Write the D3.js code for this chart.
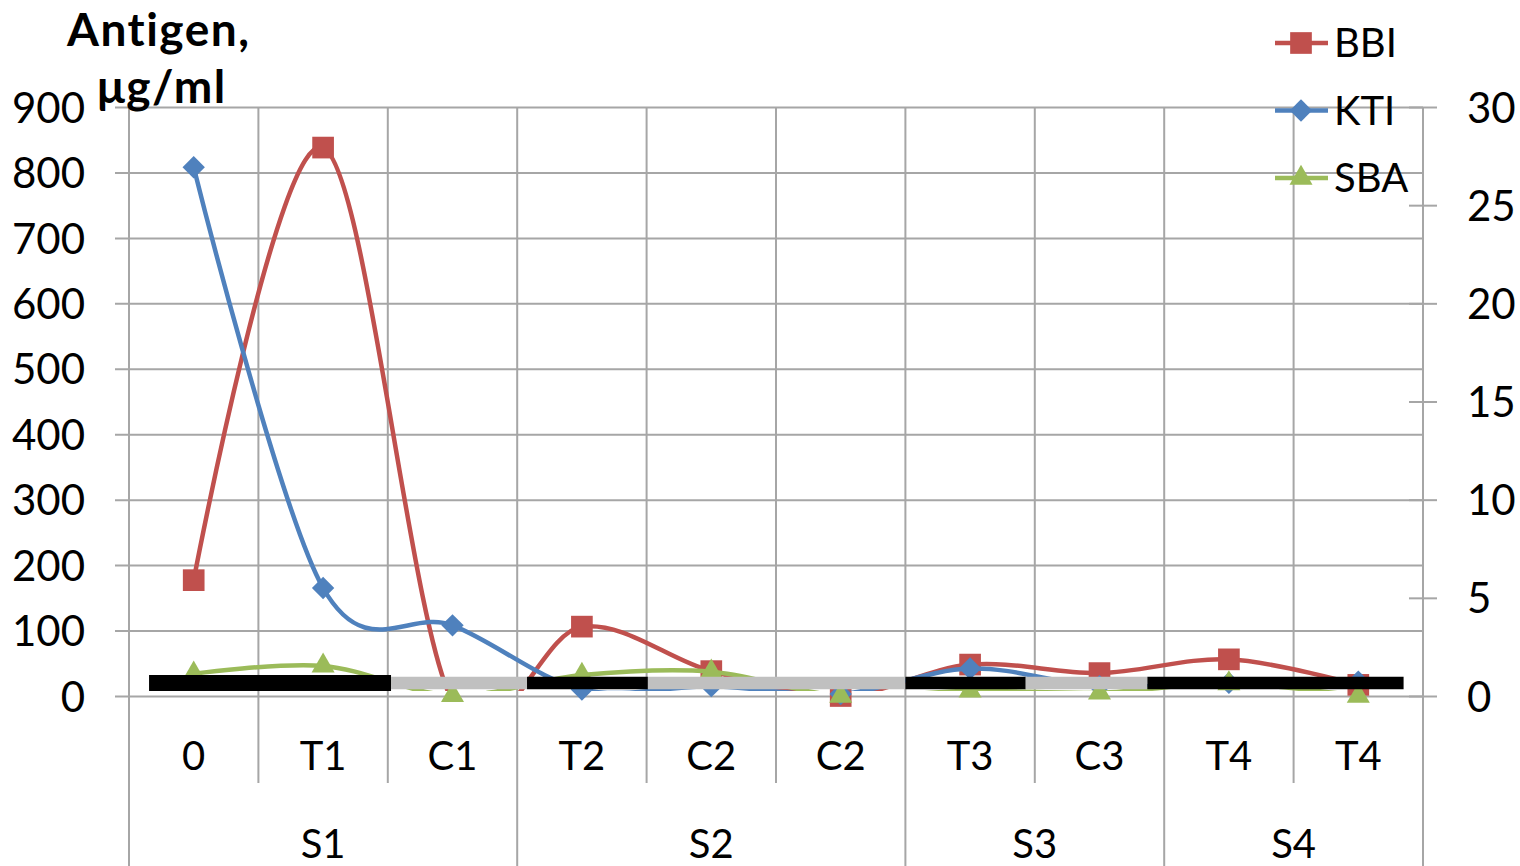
<!DOCTYPE html>
<html>
<head>
<meta charset="utf-8">
<script src="https://cdn.jsdelivr.net/npm/d3@7"></script>
<style>
  body { margin: 0; background: #fff; }
  text { font-family: "Gill Sans MT", "Gill Sans", Lato, "Open Sans", sans-serif; fill: #000; }
</style>
</head>
<body>
<svg id="chart"></svg>
<script>
// categories and groups
var categories = ["0", "T1", "C1", "T2", "C2", "C2", "T3", "C3", "T4", "T4"];
var groupNames = ["S1", "S2", "S3", "S4"];
var groupSizes = [3, 3, 2, 2];

// series values (left axis, µg/ml); BBI at C1 sits just under the axis, its marker is hidden
var bbi = [177, 838, -8, 106, 38, 0, 48, 35, 56, 17];
var kti = [808, 165, 108, 10, 15, 3, 42, 15, 20, 22];
var sba = [34, 46, 1, 32, 37, 0, 8, 5, 19, 0];

// thick band segments (category index from / to, right axis level)
var segFrom = [-0.345, 1.525, 2.576, 3.51, 5.5, 6.43, 7.37];
var segTo = [1.525, 2.576, 3.51, 5.5, 6.43, 7.37, 9.35];
var segShade = ["dark", "light", "dark", "light", "dark", "light", "dark"];
var segLevel = 0.66;

var leftTicks = [0, 100, 200, 300, 400, 500, 600, 700, 800, 900];
var rightTicks = [0, 5, 10, 15, 20, 25, 30];

var margin = { top: 107, right: 97, bottom: 170, left: 129 },
  width = 1520 - margin.left - margin.right,
  height = 866 - margin.top - margin.bottom;

var svg = d3.select("#chart")
  .attr("width", 1520)
  .attr("height", 866);

var g = svg.append("g")
  .attr("transform", "translate(" + margin.left + "," + margin.top + ")");

var x = d3.scaleBand().domain(d3.range(categories.length)).range([0, width]).padding(0);
var xi = d3.scaleLinear().domain([-0.5, categories.length - 0.5]).range([0, width]);
var y = d3.scaleLinear().domain([0, 900]).range([height, 0]);
var y2 = d3.scaleLinear().domain([0, 30]).range([height, 0]);

var gridColor = "#a6a6a6";

// horizontal grid + left axis
var yAxis = g.append("g")
  .call(d3.axisLeft(y).tickValues(leftTicks).tickSize(14).tickPadding(30));
yAxis.select(".domain").remove();
yAxis.selectAll(".tick line").attr("x2", width).attr("x1", -14)
  .attr("stroke", gridColor).attr("stroke-width", 2);
yAxis.selectAll(".tick text").style("font-size", "42px").attr("dy", "0.36em");

// vertical grid lines, running down into the category area
var bounds = d3.range(categories.length + 1);
var groupEdges = [0];
groupSizes.forEach(function (n, i) { groupEdges.push(groupEdges[i] + n); });

g.selectAll(".vgrid")
  .data(bounds)
  .enter()
  .append("line")
  .attr("class", "vgrid")
  .attr("x1", function (d) { return xi(d - 0.5); })
  .attr("x2", function (d) { return xi(d - 0.5); })
  .attr("y1", 0)
  .attr("y2", function (d) { return groupEdges.indexOf(d) >= 0 ? 866 - margin.top : height + 87; })
  .attr("stroke", gridColor)
  .attr("stroke-width", 2);

// right axis with crossing ticks
var rAxis = g.append("g")
  .attr("transform", "translate(" + width + ",0)")
  .call(d3.axisRight(y2).tickValues(rightTicks).tickSize(14).tickPadding(30));
rAxis.select(".domain").attr("stroke", gridColor).attr("stroke-width", 2).attr("d", "M0,0V" + height);
rAxis.selectAll(".tick line").attr("x1", -14).attr("stroke", gridColor).attr("stroke-width", 2);
rAxis.selectAll(".tick text").style("font-size", "42px").attr("dy", "0.36em");

// category labels
g.selectAll(".cat")
  .data(categories)
  .enter()
  .append("text")
  .attr("class", "cat")
  .attr("x", function (d, i) { return x(i) + x.bandwidth() / 2; })
  .attr("y", height + 74)
  .attr("text-anchor", "middle")
  .style("font-size", "40px")
  .text(function (d) { return d; });

// group labels
g.selectAll(".grp")
  .data(groupNames)
  .enter()
  .append("text")
  .attr("class", "grp")
  .attr("x", function (d, i) { return (xi(groupEdges[i] - 0.5) + xi(groupEdges[i + 1] - 0.5)) / 2; })
  .attr("y", height + 162)
  .attr("text-anchor", "middle")
  .style("font-size", "40px")
  .text(function (d) { return d; });

// clip lines to the plot area (Excel cuts the overshoot)
g.append("clipPath").attr("id", "plotClip")
  .append("rect").attr("x", 0).attr("y", -10).attr("width", width).attr("height", height + 5);

var diamond = {
  draw: function (ctx, size) {
    var r = Math.sqrt(size / 2);
    ctx.moveTo(0, -r); ctx.lineTo(r, 0); ctx.lineTo(0, r); ctx.lineTo(-r, 0); ctx.closePath();
  }
};

var series = [
  { name: "BBI", values: bbi, color: "#C0504D", symbol: d3.symbolSquare, size: 470 },
  { name: "KTI", values: kti, color: "#4F81BD", symbol: diamond, size: 250 },
  { name: "SBA", values: sba, color: "#9BBB59", symbol: d3.symbolTriangle, size: 230 }
];

var line = d3.line()
  .x(function (d, i) { return x(i) + x.bandwidth() / 2; })
  .y(function (d) { return y(d); })
  .curve(d3.curveCardinal.tension(0));

series.forEach(function (s) {
  g.append("path")
    .datum(s.values)
    .attr("clip-path", "url(#plotClip)")
    .attr("fill", "none")
    .attr("stroke", s.color)
    .attr("stroke-width", 4.5)
    .attr("d", line);
  g.selectAll(".m" + s.name)
    .data(s.values)
    .enter()
    .append("path")
    .attr("class", "m" + s.name)
    .attr("display", function (d) { return d < 0 ? "none" : null; })
    .attr("transform", function (d, i) { return "translate(" + (x(i) + x.bandwidth() / 2) + "," + y(d) + ")"; })
    .attr("d", d3.symbol().type(s.symbol).size(s.size))
    .attr("fill", s.color);
});

// black / grey bands drawn over the series
g.selectAll(".seg")
  .data(segFrom)
  .enter()
  .append("line")
  .attr("class", "seg")
  .attr("x1", function (d) { return xi(d); })
  .attr("x2", function (d, i) { return xi(segTo[i]); })
  .attr("y1", y2(segLevel))
  .attr("y2", y2(segLevel))
  .attr("stroke", function (d, i) { return segShade[i] === "dark" ? "#000" : "#c0c0c0"; })
  .attr("stroke-width", function (d, i) { return i === 0 ? 16 : 12.5; });

// title
var title = svg.append("text").style("font-size", "46px").style("font-weight", "bold")
  .style("letter-spacing", "1.5px");
title.append("tspan").attr("x", 67).attr("y", 46).text("Antigen,");
title.append("tspan").attr("x", 97).attr("y", 103).text("μg/ml");

// legend
var legend = svg.selectAll(".legend")
  .data(series)
  .enter()
  .append("g")
  .attr("class", "legend")
  .attr("transform", function (d, i) { return "translate(1275," + (43 + i * 67.5) + ")"; });
legend.append("line")
  .attr("x1", 0).attr("x2", 53)
  .attr("stroke", function (d) { return d.color; })
  .attr("stroke-width", 4.5);
legend.append("path")
  .attr("transform", "translate(26,0)")
  .attr("d", function (d) { return d3.symbol().type(d.symbol).size(d.size)(); })
  .attr("fill", function (d) { return d.color; });
legend.append("text")
  .attr("x", 59)
  .attr("dy", "0.36em")
  .style("font-size", "40px")
  .text(function (d) { return d.name; });
</script>
</body>
</html>
